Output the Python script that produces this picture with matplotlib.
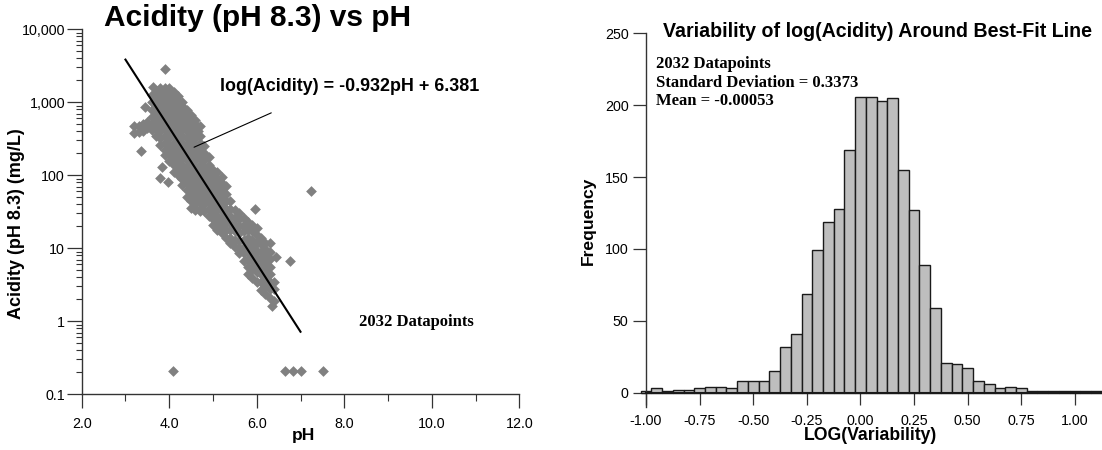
import matplotlib
matplotlib.use('Agg')
import matplotlib.pyplot as plt
import numpy as np
from matplotlib.ticker import FixedLocator, FixedFormatter, LogLocator, NullFormatter

plt.rcParams['font.family'] = ['Liberation Sans', 'DejaVu Sans']

# ---------------- data: scatter (pH vs acidity) ----------------
# dense cloud read column by column (pH -> acidity values, mg/L)
cloud_ph = [3.2, 3.3, 3.4, 3.5, 3.6, 3.7, 3.8, 3.9, 4.0, 4.1, 4.2, 4.3, 4.4, 4.5,
            4.6, 4.7, 4.8, 4.9, 5.0, 5.1, 5.2, 5.3, 5.4, 5.5, 5.6, 5.7, 5.8, 5.9,
            6.0, 6.1, 6.2, 6.3, 6.4]
cloud_acidity = [
    [470, 380],
    [480, 390],
    [500, 400],
    [530, 440],
    [1260, 1000, 790, 630, 500, 420],
    [1400, 1100, 890, 710, 560, 450, 350],
    [1550, 1260, 1000, 790, 630, 500, 400, 320, 260],
    [1550, 1400, 1100, 890, 710, 560, 450, 350, 280, 220, 190],
    [1550, 1260, 1000, 790, 630, 500, 400, 320, 250, 200, 155],
    [1400, 1100, 890, 710, 560, 450, 350, 280, 220, 180, 140, 112],
    [1230, 1000, 790, 630, 500, 400, 320, 250, 200, 160, 126, 100],
    [1000, 890, 710, 560, 450, 350, 280, 220, 180, 140, 110, 89, 74],
    [790, 630, 500, 400, 320, 250, 200, 160, 126, 100, 79, 63, 50],
    [680, 560, 450, 350, 280, 220, 180, 140, 110, 89, 71, 56, 45, 36],
    [575, 500, 400, 320, 250, 200, 160, 126, 100, 79, 63, 50, 40, 34],
    [470, 350, 280, 220, 180, 140, 110, 89, 71, 56, 45, 35, 32],
    [250, 200, 160, 126, 100, 79, 63, 50, 40, 32],
    [180, 140, 110, 89, 71, 56, 45, 35, 28],
    [120, 100, 79, 63, 50, 40, 32, 25, 21],
    [112, 89, 71, 56, 45, 35, 28, 22, 18],
    [95, 79, 63, 50, 40, 32, 25, 20, 16],
    [71, 56, 45, 35, 28, 22, 18, 14],
    [44, 35, 28, 22, 18, 14, 12],
    [33, 26, 21, 17, 13, 10.5],
    [30, 25, 20, 16, 12.6, 10, 8.5],
    [26, 21, 17, 13, 10.5, 8.5, 6.6],
    [23, 18, 14, 11, 9, 7.1, 5.6, 4.4],
    [21, 17, 13, 10.5, 8.3, 6.6, 5.2, 3.9],
    [19, 15, 12, 9.3, 7.4, 5.9, 4.7, 3.5],
    [14, 11.5, 9, 7.2, 5.6, 4.4, 3.5, 2.7],
    [12, 9.8, 7.8, 6.2, 4.9, 3.9, 3.1, 2.4],
    [8.9, 7.1, 5.6, 4.5, 3.5, 2.8, 2.1],
    [3.5, 2.8, 1.9],
]
# isolated points
single_ph = [3.90, 3.35, 3.45, 3.64, 3.79, 3.98, 3.83, 4.66, 5.96, 6.30, 6.45,
             6.77, 7.25, 6.36, 4.08, 6.65, 6.82, 7.02, 7.52]
single_acidity = [2900, 217, 870, 1630, 91, 82, 131, 400, 35, 11.7, 7.7,
                  6.6, 60, 1.6, 0.21, 0.21, 0.21, 0.21, 0.21]

fit_slope = -0.932
fit_intercept = 6.381
fit_ph = [3.0, 7.0]

y_ticks = [0.1, 1, 10, 100, 1000, 10000]
y_labels = ['0.1', '1', '10', '100', '1,000', '10,000']
x_ticks = [2, 4, 6, 8, 10, 12]
x_labels = ['2.0', '4.0', '6.0', '8.0', '10.0', '12.0']

# ---------------- data: histogram ----------------
bin_centers = [-1.00, -0.95, -0.90, -0.85, -0.80, -0.75, -0.70, -0.65, -0.60, -0.55,
               -0.50, -0.45, -0.40, -0.35, -0.30, -0.25, -0.20, -0.15, -0.10, -0.05,
               0.00, 0.05, 0.10, 0.15, 0.20, 0.25, 0.30, 0.35, 0.40, 0.45,
               0.50, 0.55, 0.60, 0.65, 0.70, 0.75, 0.80, 0.85, 0.90, 0.95,
               1.00, 1.05, 1.10]
bin_counts = [1, 3, 1, 2, 2, 3, 4, 4, 3, 8,
              8, 8, 15, 32, 41, 69, 99, 119, 128, 169,
              206, 206, 203, 205, 155, 127, 89, 59, 21, 20,
              17, 8, 6, 3, 4, 3, 1, 1, 1, 1,
              1, 1, 1]
bin_width = 0.05
hx_ticks = [-1.00, -0.75, -0.50, -0.25, 0.00, 0.25, 0.50, 0.75, 1.00]
hy_ticks = [0, 50, 100, 150, 200, 250]

# ---------------- figure ----------------
W, H = 1102, 450
fig = plt.figure(figsize=(W / 100, H / 100), dpi=100)


def fx(x):
    return x / W


def fy(y):
    return 1 - y / H


AX_COL = '#333333'
TICK_FS = 10.3

# ---- left: scatter ----
ax1 = fig.add_axes([fx(81.7), fy(394.3), 437.6 / W, 365.0 / H])
ph_all = [p for p, col in zip(cloud_ph, cloud_acidity) for _ in col] + single_ph
ac_all = [a for col in cloud_acidity for a in col] + single_acidity
ax1.scatter(ph_all, ac_all, marker='D', s=30, color='#808080', linewidths=0, zorder=2)
fit_ac = [10 ** (fit_slope * p + fit_intercept) for p in fit_ph]
ax1.plot(fit_ph, fit_ac, color='black', lw=1.5, zorder=3)
ax1.annotate('', xy=(4.51, 234), xytext=(6.39, 743),
             arrowprops=dict(arrowstyle='-', lw=0.8, color='black'))

ax1.set_yscale('log')
ax1.set_xlim(2, 12)
ax1.set_ylim(0.1, 10000)
ax1.yaxis.set_major_locator(FixedLocator(y_ticks))
ax1.yaxis.set_major_formatter(FixedFormatter(y_labels))
ax1.yaxis.set_minor_locator(LogLocator(base=10, subs=range(2, 10)))
ax1.yaxis.set_minor_formatter(NullFormatter())
ax1.xaxis.set_major_locator(FixedLocator(x_ticks))
ax1.xaxis.set_major_formatter(FixedFormatter(x_labels))
ax1.xaxis.set_minor_locator(FixedLocator([3, 5, 7, 9, 11]))
for s in ['top', 'right']:
    ax1.spines[s].set_visible(False)
for s in ['left', 'bottom']:
    ax1.spines[s].set_color(AX_COL)
    ax1.spines[s].set_linewidth(1.0)
ax1.tick_params(axis='y', which='major', length=10.8, width=0.9, pad=1.2,
                labelsize=TICK_FS, color=AX_COL)
ax1.tick_params(axis='y', which='minor', length=4.3, width=0.8, color=AX_COL)
ax1.tick_params(axis='x', which='major', length=10, width=0.9, pad=6.3,
                labelsize=TICK_FS, color=AX_COL)
ax1.tick_params(axis='x', which='minor', length=5, width=0.8, color=AX_COL)

fig.text(fx(104), fy(18.3), 'Acidity (pH 8.3) vs pH', ha='left', va='center',
         fontsize=21.5, fontweight='bold')
fig.text(fx(219.5), fy(86.7), 'log(Acidity) = -0.932pH + 6.381', ha='left',
         va='center', fontsize=12.9, fontweight='bold')
fig.text(fx(359), fy(322), '2032 Datapoints', ha='left', va='center',
         fontsize=12, fontweight='bold', family='Liberation Serif')
fig.text(fx(303.3), fy(435.5), 'pH', ha='center', va='center',
         fontsize=12.6, fontweight='bold')
fig.text(fx(17), fy(224), 'Acidity (pH 8.3) (mg/L)', ha='center', va='center',
         rotation=90, fontsize=13, fontweight='bold')

# ---- right: histogram ----
ax2 = fig.add_axes([fx(646), fy(407.1), (W - 646) / W, (407.1 - 33.3) / H])
bars = ax2.bar(bin_centers, bin_counts, width=bin_width, color='#BEBEBE',
               edgecolor='#1a1a1a', linewidth=1.0, zorder=2)
for b in bars:
    b.set_clip_on(False)
ax2.set_xlim(-1.0, 1.126)
ax2.set_ylim(-10, 250)
ax2.xaxis.set_major_locator(FixedLocator(hx_ticks))
ax2.xaxis.set_major_formatter(FixedFormatter(['%.2f' % v for v in hx_ticks]))
ax2.yaxis.set_major_locator(FixedLocator(hy_ticks))
ax2.yaxis.set_major_formatter(FixedFormatter([str(v) for v in hy_ticks]))
for s in ['top', 'right']:
    ax2.spines[s].set_visible(False)
ax2.spines['bottom'].set_position(('data', 0))
ax2.spines['bottom'].set_color('#1a1a1a')
ax2.spines['bottom'].set_linewidth(1.5)
ax2.spines['bottom'].set_zorder(3)
ax2.spines['left'].set_color(AX_COL)
ax2.spines['left'].set_linewidth(1.0)
ax2.tick_params(axis='y', which='major', length=9.4, width=0.9, pad=3.2,
                labelsize=TICK_FS, color=AX_COL)
ax2.tick_params(axis='x', which='major', length=8.6, width=0.9, pad=7,
                labelsize=TICK_FS, color=AX_COL)

fig.text(fx(663), fy(31.7), 'Variability of log(Acidity) Around Best-Fit Line',
         ha='left', va='center', fontsize=14.1, fontweight='bold')
for txt, yy in [('2032 Datapoints', 64), ('Standard Deviation = 0.3373', 82.7),
                ('Mean = -0.00053', 100.7)]:
    fig.text(fx(656), fy(yy), txt, ha='left', va='center', fontsize=12,
             fontweight='bold', family='Liberation Serif')
fig.text(fx(870.6), fy(436), 'LOG(Variability)', ha='center', va='center',
         fontsize=12.7, fontweight='bold')
fig.text(fx(588), fy(221), 'Frequency', ha='center', va='center', rotation=90,
         fontsize=12.6, fontweight='bold')

fig.savefig('out.png', dpi=100)
